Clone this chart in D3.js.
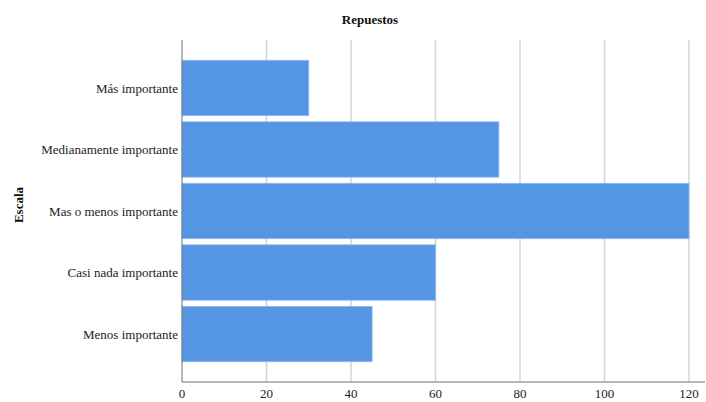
<!DOCTYPE html>
<html>
<head>
<meta charset="utf-8">
</head>
<body style="margin:0">
<svg id="chart" width="706" height="402" style="display:block">
  <text x="370" y="24" text-anchor="middle" font-family="Liberation Serif" font-size="13" font-weight="bold" fill="#111">Repuestos</text>
  <text transform="translate(23,205) rotate(-90)" text-anchor="middle" font-family="Liberation Serif" font-size="13" font-weight="bold" fill="#111">Escala</text>
</svg>
<script src="https://cdn.jsdelivr.net/npm/d3@7"></script>
<script>
// Importance scale categories and their counts
const categories = [
  "Más importante",
  "Medianamente importante",
  "Mas o menos importante",
  "Casi nada importante",
  "Menos importante"
];
const counts = [30, 75, 120, 60, 45];
const xTicks = [0, 20, 40, 60, 80, 100, 120];

(function () {
  const svg = d3.select("#chart");
  const plotLeft = 182, plotRight = 705, plotTop = 40, plotBottom = 382;
  const serif = "Liberation Serif";

  const x = d3.scaleLinear().domain([0, 120]).range([plotLeft, 689]);
  const y = d3.scaleBand().domain(categories).range([plotTop, plotBottom])
    .paddingInner(0.1).paddingOuter(0.33);

  // Vertical gridlines
  svg.insert("g", "text").selectAll("line")
    .data(xTicks.filter(d => d > 0))
    .join("line")
    .attr("x1", d => x(d)).attr("x2", d => x(d))
    .attr("y1", plotTop).attr("y2", plotBottom)
    .attr("stroke", "#d4d4d4").attr("stroke-width", 1.5);

  // Bars
  const data = categories.map((c, i) => ({ c, v: counts[i] }));
  svg.append("g").selectAll("rect")
    .data(data)
    .join("rect")
    .attr("x", x(0))
    .attr("y", d => y(d.c))
    .attr("width", d => x(d.v) - x(0))
    .attr("height", y.bandwidth())
    .attr("fill", "#5596e4")
    .attr("stroke", "#8db8ee")
    .attr("stroke-width", 0.8);

  // Axis lines
  svg.append("line").attr("x1", plotLeft).attr("x2", plotLeft).attr("y1", plotTop).attr("y2", plotBottom)
    .attr("stroke", "#6e6e6e").attr("stroke-width", 1);
  svg.append("line").attr("x1", plotLeft).attr("x2", plotRight).attr("y1", plotBottom).attr("y2", plotBottom)
    .attr("stroke", "#6e6e6e").attr("stroke-width", 1);

  // X tick labels
  svg.append("g").selectAll("text")
    .data(xTicks)
    .join("text")
    .attr("x", d => x(d))
    .attr("y", 398)
    .attr("text-anchor", "middle")
    .attr("font-family", serif)
    .attr("font-size", 13)
    .attr("fill", "#222")
    .text(d => d);

  // Category labels
  svg.append("g").selectAll("text")
    .data(categories)
    .join("text")
    .attr("x", 178)
    .attr("y", d => y(d) + y.bandwidth() / 2)
    .attr("dy", "0.35em")
    .attr("text-anchor", "end")
    .attr("font-family", serif)
    .attr("font-size", 13)
    .attr("fill", "#222")
    .text(d => d);
})();
</script>
</body>
</html>
